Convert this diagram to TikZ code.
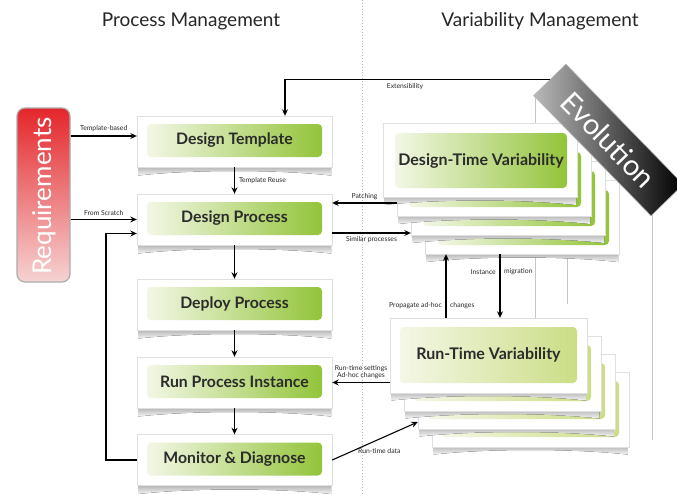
\documentclass[tikz,border=0pt]{standalone}
\usepackage{fontspec}
\setmainfont{Lato}
\usetikzlibrary{arrows.meta,calc}
\definecolor{gl}{HTML}{F3F7E6}
\definecolor{gr}{HTML}{93C43A}
\definecolor{rl}{HTML}{F4F7E6}
\definecolor{rr}{HTML}{CBDD86}
\definecolor{txt}{HTML}{2B2B2B}
\definecolor{reqtop}{HTML}{E4262B}
\definecolor{reqbot}{HTML}{F6D3D3}
\tikzset{
  card/.style={draw=gray!25, fill=white, inner sep=0pt},
  pcard/.style={card, minimum width=195, minimum height=51},
  gbox/.style={rounded corners=4pt, left color=gl, right color=gr, inner sep=0pt,
    minimum width=175, minimum height=33, text=txt, font=\bfseries\fontsize{15.8}{17}\selectfont},
  vbox/.style={rounded corners=4pt, left color=gl, right color=gr, inner sep=0pt,
    minimum width=172, minimum height=55, text=txt, font=\bfseries\fontsize{16}{18}\selectfont},
  rbox/.style={vbox, left color=rl, right color=rr, minimum width=177, minimum height=56},
  arr/.style={line width=1.1pt, -{Stealth[length=6.5pt, width=6pt]}},
  lbl/.style={font=\fontsize{6.8}{7.6}\selectfont, text=black!85, inner sep=1pt},
  title/.style={font=\fontsize{19}{21}\selectfont, text=black!85},
  layer/.style={draw=gray!45, line width=0.9pt},
}
\newcommand\shad[3]{%
  \fill[top color=gray!60, bottom color=gray!8]
    (#1,#3) -- (#2,#3) -- (#2,#3+9) .. controls (#2-55,#3+3) and (#1+55,#3+3) .. (#1,#3+9) -- cycle;}
\newcommand\pstep[4]{%
  \shad{138}{331}{#3+25}
  \node[pcard] (#1) at (234.5,#3) {};
  \node[gbox] (#2) at (234.5,#3-1) {#4};}
\newcommand\dcard[4]{% name, green name, cx, cy
  \shad{#3-96}{#3+96}{#4+36}
  \node[card, minimum width=194, minimum height=74] (#1) at (#3,#4) {};
  \node[vbox] (#2) at (#3+1,#4+0.5) {};}
\newcommand\rcard[4]{%
  \shad{#3-97}{#3+97}{#4+36}
  \node[card, minimum width=197, minimum height=75] (#1) at (#3,#4) {};
  \node[rbox] (#2) at (#3,#4-0.5) {};}
\begin{document}
\begin{tikzpicture}[x=1pt,y=-1pt]
\useasboundingbox (0,0) rectangle (677,495);
\fill[white] (0,0) rectangle (677,495);

% titles and separator
\node[title] (pmt) at (191,21) {Process Management};
\node[title] (vmt) at (540,21) {Variability Management};
\draw[gray!55, dotted, line width=0.9pt] (362,0) -- (362,495);

% evolution layer edges
\draw[layer] (535,98) -- (535,320);
\draw[layer] (567,110) -- (567,304);
\draw[layer] (652,205) -- (652,440);

% Requirements
\node[rounded corners=8pt, minimum width=53, minimum height=174, inner sep=0pt,
      top color=reqtop, bottom color=reqbot, draw=gray!65, line width=1.2pt] (req) at (43.5,195) {};
\node[rotate=90, text=white, font=\fontsize{26}{28}\selectfont] (reqt) at (44,196) {Requirements};

% process steps
\pstep{dtc}{dtg}{141.5}{Design Template}
\pstep{dpc}{dpg}{219.5}{Design Process}
\pstep{depc}{depg}{304.5}{Deploy Process}
\pstep{runc}{rung}{382.5}{Run Process Instance}
\pstep{monc}{mong}{460}{Monitor \& Diagnose}

% design-time variability stack
\dcard{dtv3}{dtg3}{522}{217}
\dcard{dtv2}{dtg2}{508}{198}
\dcard{dtv1}{dtg1}{494}{179}
\dcard{dtv}{dtg}{480}{160}
\node[font=\bfseries\fontsize{16}{18}\selectfont, text=txt] (dtvt) at (dtg) {Design-Time Variability};

% run-time variability stack
\rcard{rtv3}{rtg3}{530.5}{409.5}
\rcard{rtv2}{rtg2}{516.5}{391.5}
\rcard{rtv1}{rtg1}{502.5}{373.5}
\rcard{rtv}{rtg}{488.5}{355.5}
\node[font=\bfseries\fontsize{16}{18}\selectfont, text=txt] (rtvt) at (rtg) {Run-Time Variability};

% Evolution banner
\node[rotate=-45.7, minimum width=168, minimum height=45, inner sep=0pt,
      left color=gray!55, right color=black, draw=gray!60, line width=0.6pt] (evo) at (608.5,140) {};
\node[rotate=-45.7, text=white, font=\fontsize{29}{31}\selectfont] (evot) at (evo) {Evolution};

% helper coordinates
\coordinate (y136) at (0,136);
\coordinate (yP) at (0,203);
\coordinate (yS) at (0,233);
\coordinate (yD) at (0,422);
\coordinate (xP) at (446,0);
\coordinate (xI) at (500,0);
\coordinate (xF) at (106,0);

% connectors
\draw[arr] (req.east |- y136) -- node[lbl, above=3pt] (l1) {Template-based} (dtc.west |- y136);
\draw[arr] (req.east |- dpc.west) -- node[lbl, above=2pt] (l2) {From Scratch} (dpc.west);
\draw[arr] (dtc.south) -- node[lbl, right=3pt] (l3) {Template Reuse} (dpc.north);
\draw[arr] (dpc.south) -- (depc.north);
\draw[arr] (depc.south) -- (runc.north);
\draw[arr] (runc.south) -- (monc.north);
\draw[arr] (monc.west) -- (monc.west -| xF) |- ($(dpc.west)+(0,14)$);
\draw[arr] (evo.west) -| ($(dtc.north)+(50.5,0)$);
\node[lbl] (lext) at (405,87) {Extensibility};
\draw[arr] (dtv1.west |- yP) -- node[lbl, above=2pt] (lpat) {Patching} (dpc.east |- yP);
\draw[arr] (dpc.east |- yS) -- node[lbl, below=2pt] (lsim) {Similar processes} (dtv2.west |- yS);
\draw[arr] (rtv.north -| xP) -- (dtv3.south -| xP);
\node[lbl, anchor=east] (lprop1) at (443,306) {Propagate ad-hoc};
\node[lbl, anchor=west] (lprop2) at (449,306) {changes};
\draw[arr] (dtv3.south -| xI) -- (rtv.north -| xI);
\node[lbl, anchor=east] (lmig1) at (497,272) {Instance};
\node[lbl, anchor=west] (lmig2) at (503,272) {migration};
\draw[arr] (rtv.west |- runc.east) -- node[lbl, above=2pt, align=center] (lrts) {Run-time settings\\Ad-hoc changes} (runc.east);
\draw[arr] (monc.east) -- node[lbl, pos=0.55, below=8pt] (lrtd) {Run-time data} (rtv2.west |- yD);
\end{tikzpicture}
\end{document}
